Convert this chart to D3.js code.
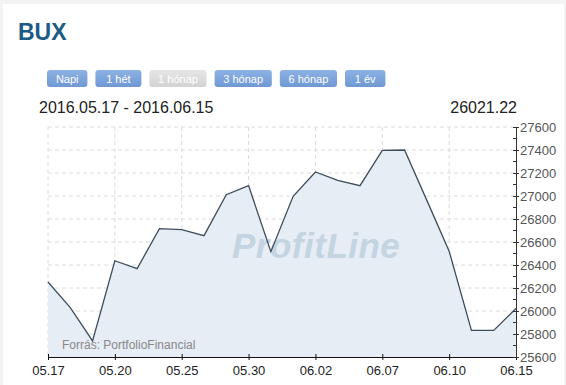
<!DOCTYPE html>
<html>
<head>
<meta charset="utf-8">
<script src="https://cdnjs.cloudflare.com/ajax/libs/d3/7.8.5/d3.min.js"></script>
<style>
  html, body { margin: 0; padding: 0; background: #f3f3f3; }
  svg { display: block; font-family: "Liberation Sans", Arial, sans-serif; }
</style>
</head>
<body>
<svg id="chart" width="566" height="385"></svg>
<script>
// trading days shown on the chart
var dates = ['05.17','05.18','05.19','05.20','05.23','05.24','05.25','05.26','05.27','05.30','05.31',
             '06.01','06.02','06.03','06.06','06.07','06.08','06.09','06.10','06.13','06.14','06.15'];
var closes = [26252, 26029, 25740, 26437, 26368, 26716, 26707, 26655, 27011, 27090, 26516,
              26997, 27209, 27136, 27090, 27397, 27400, 26962, 26520, 25831, 25831, 26021.22];
var xTickLabels = ['05.17','05.20','05.25','05.30','06.02','06.07','06.10','06.15'];
var yTicks = [25600, 25800, 26000, 26200, 26400, 26600, 26800, 27000, 27200, 27400, 27600];
var buttons = ['Napi', '1 hét', '1 hónap', '3 hónap', '6 hónap', '1 év'];
var activeBtn = '1 hónap';
var lastValue = '26021.22';
var rangeText = '2016.05.17 - 2016.06.15';

var svg = d3.select('#chart');

// white card
svg.append('rect').attr('x', 3).attr('y', 4).attr('width', 561).attr('height', 381).attr('fill', '#fff');

svg.append('text').attr('x', 18).attr('y', 40)
    .style('font-size', '23px').style('font-weight', 'bold').attr('fill', '#1b5b86')
    .text('BUX');

// period buttons
var defs = svg.append('defs');
var grad = defs.append('linearGradient').attr('id', 'btnGrad').attr('x1', 0).attr('y1', 0).attr('x2', 0).attr('y2', 1);
grad.append('stop').attr('offset', '0%').attr('stop-color', '#8db2e4');
grad.append('stop').attr('offset', '100%').attr('stop-color', '#6f98d3');
var gradOff = defs.append('linearGradient').attr('id', 'btnGradOff').attr('x1', 0).attr('y1', 0).attr('x2', 0).attr('y2', 1);
gradOff.append('stop').attr('offset', '0%').attr('stop-color', '#e6e6e6');
gradOff.append('stop').attr('offset', '100%').attr('stop-color', '#d2d2d2');

var bx = 47;
buttons.forEach(function (b) {
    var w = b.length * 5.6 + 18;
    var g = svg.append('g').attr('transform', 'translate(' + bx + ',70)');
    g.append('rect').attr('width', w).attr('height', 17).attr('rx', 3)
        .attr('fill', b == activeBtn ? 'url(#btnGradOff)' : 'url(#btnGrad)');
    g.append('text').attr('x', w / 2).attr('y', 12.5).attr('text-anchor', 'middle')
        .style('font-size', '11px').attr('fill', '#fff').text(b);
    bx += w + 8;
});

svg.append('text').attr('x', 39).attr('y', 113).style('font-size', '16px').attr('fill', '#222').text(rangeText);
svg.append('text').attr('x', 517).attr('y', 113).attr('text-anchor', 'end')
    .style('font-size', '16px').attr('fill', '#222').text(lastValue);

var x = d3.scalePoint().domain(dates).range([48, 516]);
var y = d3.scaleLinear().domain([25600, 27600]).range([357, 127]);

// grid
var grid = svg.append('g').attr('stroke', '#dcdcdc').attr('stroke-dasharray', '4,3');
grid.selectAll('line.h').data(yTicks.slice(1)).enter().append('line')
    .attr('x1', 48).attr('x2', 516).attr('y1', function (d) { return y(d); }).attr('y2', function (d) { return y(d); });
grid.selectAll('line.v').data(xTickLabels.slice(0, -1)).enter().append('line')
    .attr('y1', 127).attr('y2', 357).attr('x1', function (d) { return x(d); }).attr('x2', function (d) { return x(d); });

var area = d3.area().x(function (d, i) { return x(dates[i]); }).y0(y(25600)).y1(function (d) { return y(d); });
var line = d3.line().x(function (d, i) { return x(dates[i]); }).y(function (d) { return y(d); });

svg.append('path').datum(closes).attr('d', area).attr('fill', '#e6edf5');

svg.append('text').attr('x', 232).attr('y', 258)
    .style('font-size', '35px').style('font-weight', 'bold').style('font-style', 'italic')
    .style('letter-spacing', '0.5px').attr('fill', '#c4d4e1').text('ProfitLine');

svg.append('text').attr('x', 62).attr('y', 349).style('font-size', '12px').attr('fill', '#888')
    .text('Forrás: PortfolioFinancial');

svg.append('path').datum(closes).attr('d', line).attr('fill', 'none')
    .attr('stroke', '#3e4d5c').attr('stroke-width', 1.3);

// x axis
var xAxis = d3.axisBottom(x).tickValues(xTickLabels).tickSize(3).tickSizeOuter(0);
var gx = svg.append('g').attr('transform', 'translate(0,357)').call(xAxis);
gx.select('.domain').attr('stroke', '#111');
gx.selectAll('.tick line').attr('stroke', '#111').attr('y1', -3);
gx.selectAll('.tick text').style('font-size', '13px').attr('fill', '#222').attr('font-family', null).attr('dy', '0.9em');

// y axis on the right, with minor ticks
var minor = d3.range(25700, 27600, 200);
svg.append('g').selectAll('line').data(minor).enter().append('line')
    .attr('x1', 513).attr('x2', 516).attr('y1', function (d) { return y(d); }).attr('y2', function (d) { return y(d); })
    .attr('stroke', '#333');
var yAxis = d3.axisRight(y).tickValues(yTicks).tickSize(3).tickSizeOuter(0).tickFormat(d3.format('d'));
var gy = svg.append('g').attr('transform', 'translate(516,0)').call(yAxis);
gy.select('.domain').attr('stroke', '#333');
gy.selectAll('.tick line').attr('stroke', '#333').attr('x1', -3);
gy.selectAll('.tick text').style('font-size', '13px').attr('fill', '#555').attr('font-family', null).attr('x', 4);
</script>
</body>
</html>
